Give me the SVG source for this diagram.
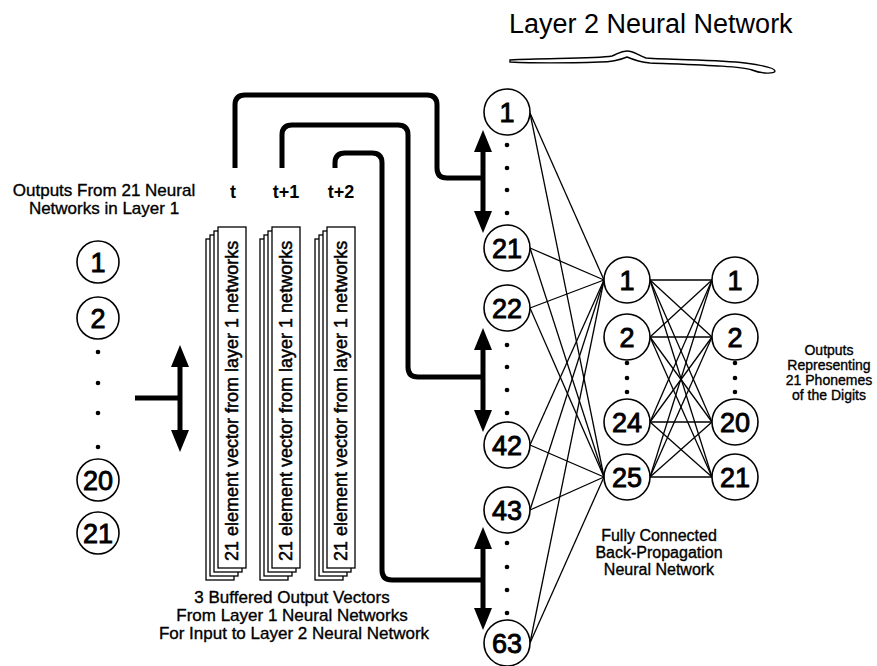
<svg xmlns="http://www.w3.org/2000/svg" width="877" height="666" viewBox="0 0 877 666">
<style>
  text { font-family: "Liberation Sans", Arial, sans-serif; fill: #000; }
  .n circle { fill: #fff; stroke: #000; stroke-width: 1.6; }
  .n text { font-size: 27px; text-anchor: middle; stroke: #000; stroke-width: 0.9; }
  .dot { fill: #000; }
  .thin { stroke: #000; stroke-width: 1.3; fill: none; }
  .thick { stroke: #000; stroke-width: 5; fill: none; }
  .sheet { fill: #fff; stroke: #000; stroke-width: 1.3; }
  .vt { font-size: 18px; stroke: #000; stroke-width: 0.5; }
  .lab { font-size: 17px; text-anchor: middle; stroke: #000; stroke-width: 0.35; }
  .sm { font-size: 14px; text-anchor: middle; stroke: #000; stroke-width: 0.35; }
  .fc { font-size: 16px; text-anchor: middle; stroke: #000; stroke-width: 0.35; }
  .tl { font-size: 18px; font-weight: bold; text-anchor: middle; }
</style>
<defs>
  <marker id="ah" markerUnits="userSpaceOnUse" markerWidth="22" markerHeight="18" refX="4" refY="9" orient="auto-start-reverse">
    <path d="M0,0 L22,9 L0,18 Z" fill="#000"/>
  </marker>
</defs>

<!-- Title and brace -->
<g id="title">
  <text x="509" y="33" font-size="27">Layer 2 Neural Network</text>
  <path d="M510 60 C545 58 595 59 612 56 C618 54 620 51 627 51 C634 51 637 55 646 58 C675 60 720 60 745 63 C760 65 775 68 775 71 C775 74 762 74 752 70 C740 66 700 65 650 63 C640 62 634 60 627 57 C620 60 612 62 600 62 C570 63 530 63 510 62 Z" fill="#fff" stroke="#000" stroke-width="1.4"/>
</g>

<!-- Connectors -->
<g id="connectors">
  <g class="thin">
    <line x1="530" y1="113" x2="604" y2="280"/>
    <line x1="530" y1="113" x2="604" y2="477"/>
    <line x1="530" y1="248" x2="604" y2="280"/>
    <line x1="530" y1="248" x2="604" y2="477"/>
    <line x1="530" y1="308" x2="604" y2="280"/>
    <line x1="530" y1="308" x2="604" y2="477"/>
    <line x1="530" y1="445" x2="604" y2="280"/>
    <line x1="530" y1="445" x2="604" y2="477"/>
    <line x1="530" y1="510" x2="604" y2="280"/>
    <line x1="530" y1="510" x2="604" y2="477"/>
    <line x1="530" y1="643" x2="604" y2="280"/>
    <line x1="530" y1="643" x2="604" y2="477"/>
  </g>
  <g class="thin">
    <line x1="650" y1="280" x2="712" y2="280"/>
    <line x1="650" y1="280" x2="712" y2="337"/>
    <line x1="650" y1="280" x2="712" y2="422"/>
    <line x1="650" y1="280" x2="712" y2="477"/>
    <line x1="650" y1="337" x2="712" y2="280"/>
    <line x1="650" y1="337" x2="712" y2="337"/>
    <line x1="650" y1="337" x2="712" y2="422"/>
    <line x1="650" y1="337" x2="712" y2="477"/>
    <line x1="650" y1="422" x2="712" y2="280"/>
    <line x1="650" y1="422" x2="712" y2="337"/>
    <line x1="650" y1="422" x2="712" y2="422"/>
    <line x1="650" y1="422" x2="712" y2="477"/>
    <line x1="650" y1="477" x2="712" y2="280"/>
    <line x1="650" y1="477" x2="712" y2="337"/>
    <line x1="650" y1="477" x2="712" y2="422"/>
    <line x1="650" y1="477" x2="712" y2="477"/>
  </g>
  <path class="thick" d="M235 168 V105 Q235 95 245 95 H427 Q437 95 437 105 V168 Q437 178 447 178 H483"/>
  <path class="thick" d="M282 168 V135 Q282 125 292 125 H398 Q408 125 408 135 V367 Q408 377 418 377 H483"/>
  <path class="thick" d="M335 168 V163 Q335 153 345 153 H372 Q382 153 382 163 V570 Q382 580 392 580 H483"/>
  <line class="thick" x1="483" y1="148" x2="483" y2="215" marker-start="url(#ah)" marker-end="url(#ah)"/>
  <line class="thick" x1="483" y1="346" x2="483" y2="414" marker-start="url(#ah)" marker-end="url(#ah)"/>
  <line class="thick" x1="483" y1="545" x2="483" y2="612" marker-start="url(#ah)" marker-end="url(#ah)"/>
  <line class="thick" x1="180" y1="363" x2="180" y2="434" marker-start="url(#ah)" marker-end="url(#ah)"/>
  <line class="thick" x1="135" y1="398" x2="180" y2="398"/>
</g>

<!-- Layer 1 outputs -->
<g id="l1-1" class="n"><circle cx="98" cy="262" r="21"/><text x="98" y="271.5">1</text></g>
<g id="l1-2" class="n"><circle cx="98" cy="318" r="21"/><text x="98" y="327.5">2</text></g>
<g id="l1-dots"><circle class="dot" cx="98" cy="352" r="2.3"/><circle class="dot" cx="98" cy="383" r="2.3"/><circle class="dot" cx="98" cy="413" r="2.3"/><circle class="dot" cx="98" cy="447" r="2.3"/></g>
<g id="l1-20" class="n"><circle cx="98" cy="480" r="21"/><text x="98" y="489.5">20</text></g>
<g id="l1-21" class="n"><circle cx="98" cy="533" r="21"/><text x="98" y="542.5">21</text></g>

<g id="label-left">
  <text class="lab" x="104" y="196">Outputs From 21 Neural</text>
  <text class="lab" x="104" y="214">Networks in Layer 1</text>
</g>

<!-- Buffers -->
<g id="buffer-t">
  <rect class="sheet" x="206" y="239" width="28" height="341"/>
  <rect class="sheet" x="210" y="235" width="28" height="341"/>
  <rect class="sheet" x="214" y="231" width="28" height="341"/>
  <rect class="sheet" x="218" y="227" width="28" height="341"/>
  <text class="vt" transform="translate(238,561) rotate(-90)">21 element vector from layer 1 networks</text>
  <text class="tl" x="233" y="198">t</text>
</g>
<g id="buffer-t1">
  <rect class="sheet" x="260" y="239" width="28" height="341"/>
  <rect class="sheet" x="264" y="235" width="28" height="341"/>
  <rect class="sheet" x="268" y="231" width="28" height="341"/>
  <rect class="sheet" x="272" y="227" width="28" height="341"/>
  <text class="vt" transform="translate(292,561) rotate(-90)">21 element vector from layer 1 networks</text>
  <text class="tl" x="286" y="198">t+1</text>
</g>
<g id="buffer-t2">
  <rect class="sheet" x="315" y="239" width="28" height="341"/>
  <rect class="sheet" x="319" y="235" width="28" height="341"/>
  <rect class="sheet" x="323" y="231" width="28" height="341"/>
  <rect class="sheet" x="327" y="227" width="28" height="341"/>
  <text class="vt" transform="translate(347,561) rotate(-90)">21 element vector from layer 1 networks</text>
  <text class="tl" x="341" y="198">t+2</text>
</g>
<g id="label-buffers">
  <text class="lab" x="292" y="603">3 Buffered Output Vectors</text>
  <text class="lab" x="292" y="621">From Layer 1 Neural Networks</text>
  <text class="lab" x="294" y="639">For Input to Layer 2 Neural Network</text>
</g>

<!-- Layer 2 input column -->
<g id="in-1" class="n"><circle cx="507" cy="112" r="23"/><text x="507" y="121.5">1</text></g>
<g id="in-21" class="n"><circle cx="507" cy="248" r="23"/><text x="507" y="257.5">21</text></g>
<g id="in-22" class="n"><circle cx="507" cy="308" r="23"/><text x="507" y="317.5">22</text></g>
<g id="in-42" class="n"><circle cx="507" cy="445" r="23"/><text x="507" y="454.5">42</text></g>
<g id="in-43" class="n"><circle cx="507" cy="510" r="23"/><text x="507" y="519.5">43</text></g>
<g id="in-63" class="n"><circle cx="507" cy="643" r="23"/><text x="507" y="652.5">63</text></g>
<g id="in-dots">
  <circle class="dot" cx="507" cy="145" r="2.3"/><circle class="dot" cx="507" cy="168" r="2.3"/><circle class="dot" cx="507" cy="190" r="2.3"/><circle class="dot" cx="507" cy="213" r="2.3"/>
  <circle class="dot" cx="507" cy="345" r="2.3"/><circle class="dot" cx="507" cy="367" r="2.3"/><circle class="dot" cx="507" cy="390" r="2.3"/><circle class="dot" cx="507" cy="413" r="2.3"/>
  <circle class="dot" cx="507" cy="543" r="2.3"/><circle class="dot" cx="507" cy="567" r="2.3"/><circle class="dot" cx="507" cy="590" r="2.3"/><circle class="dot" cx="507" cy="613" r="2.3"/>
</g>

<!-- Hidden layer -->
<g id="h-1" class="n"><circle cx="627" cy="280" r="23"/><text x="627" y="289.5">1</text></g>
<g id="h-2" class="n"><circle cx="627" cy="337" r="23"/><text x="627" y="346.5">2</text></g>
<g id="h-24" class="n"><circle cx="627" cy="422" r="23"/><text x="627" y="431.5">24</text></g>
<g id="h-25" class="n"><circle cx="627" cy="477" r="23"/><text x="627" y="486.5">25</text></g>
<g id="h-dots"><circle class="dot" cx="627" cy="363" r="2.3"/><circle class="dot" cx="627" cy="378" r="2.3"/><circle class="dot" cx="627" cy="392" r="2.3"/></g>

<!-- Output layer -->
<g id="o-1" class="n"><circle cx="735" cy="280" r="23"/><text x="735" y="289.5">1</text></g>
<g id="o-2" class="n"><circle cx="735" cy="337" r="23"/><text x="735" y="346.5">2</text></g>
<g id="o-20" class="n"><circle cx="735" cy="422" r="23"/><text x="735" y="431.5">20</text></g>
<g id="o-21" class="n"><circle cx="735" cy="477" r="23"/><text x="735" y="486.5">21</text></g>
<g id="o-dots"><circle class="dot" cx="735" cy="363" r="2.3"/><circle class="dot" cx="735" cy="378" r="2.3"/><circle class="dot" cx="735" cy="392" r="2.3"/></g>

<g id="label-outputs">
  <text class="sm" x="829" y="355">Outputs</text>
  <text class="sm" x="829" y="370">Representing</text>
  <text class="sm" x="829" y="385">21 Phonemes</text>
  <text class="sm" x="829" y="400">of the Digits</text>
</g>
<g id="label-fc">
  <text class="fc" x="659" y="541">Fully Connected</text>
  <text class="fc" x="659" y="558">Back-Propagation</text>
  <text class="fc" x="659" y="575">Neural Network</text>
</g>
</svg>
